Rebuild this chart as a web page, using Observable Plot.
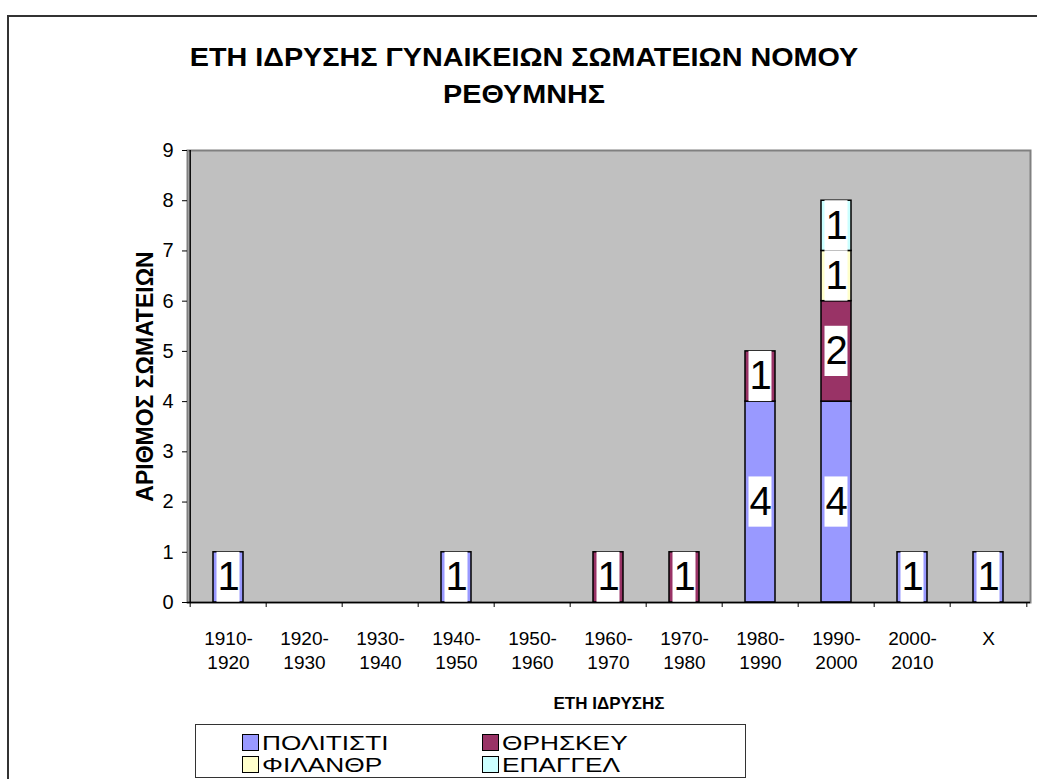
<!DOCTYPE html>
<html>
<head>
<meta charset="utf-8">
<script src="https://cdn.jsdelivr.net/npm/d3@7"></script>
<script src="https://cdn.jsdelivr.net/npm/@observablehq/plot@0.6"></script>
<style>
  html, body { margin: 0; padding: 0; background: #fff; }
  #wrap { position: relative; width: 1037px; height: 779px; overflow: hidden; font-family: "Liberation Sans", Arial, sans-serif; }
  #border { position: absolute; left: 7px; top: 15px; width: 1100px; height: 900px; border-left: 2px solid #333; border-top: 2px solid #333; }
  .title { position: absolute; left: 524px; font-weight: bold; font-size: 25px; white-space: nowrap; transform: translateX(-50%) scaleX(1.15); line-height: 37px; color: #000; }
  #chart { position: absolute; left: 0; top: 0; }
  #legend { position: absolute; left: 195px; top: 724px; width: 549px; height: 52px; border: 1.5px solid #333; background: #fff; }
  .sw { position: absolute; width: 15px; height: 15px; border: 1px solid #000; }
  .lt { position: absolute; font-size: 21px; line-height: 21px; white-space: nowrap; transform: scaleX(1.25); transform-origin: left center; color: #000; }
</style>
</head>
<body>
<div id="wrap">
  <div id="border"></div>
  <div id="chart"></div>
  <div class="title" style="top:39px">ΕΤΗ ΙΔΡΥΣΗΣ ΓΥΝΑΙΚΕΙΩΝ ΣΩΜΑΤΕΙΩΝ ΝΟΜΟΥ</div>
  <div class="title" style="top:76px">ΡΕΘΥΜΝΗΣ</div>
  <div id="legend"></div>
</div>
<script>
const categories = ["1910-1920","1920-1930","1930-1940","1940-1950","1950-1960","1960-1970","1970-1980","1980-1990","1990-2000","2000-2010","X"];
const series = ["ΠΟΛΙΤΙΣΤΙ","ΘΡΗΣΚΕΥ","ΦΙΛΑΝΘΡ","ΕΠΑΓΓΕΛ"];
const colors = ["#9999FF","#993366","#FFFFCC","#CCFFFF"];
const politisti = [1,0,0,1,0,0,0,4,4,1,1];
const thriskeu  = [0,0,0,0,0,1,1,1,2,0,0];
const filanthr  = [0,0,0,0,0,0,0,0,1,0,0];
const epaggel   = [0,0,0,0,0,0,0,0,1,0,0];
const yTicks = [0,1,2,3,4,5,6,7,8,9];
const xTitle = "ΕΤΗ ΙΔΡΥΣΗΣ";
const yTitle = "ΑΡΙΘΜΟΣ ΣΩΜΑΤΕΙΩΝ";

const valuesBySeries = [politisti, thriskeu, filanthr, epaggel];
const rows = [];
series.forEach((s, si) => {
  categories.forEach((c, ci) => {
    const v = valuesBySeries[si][ci];
    if (v > 0) rows.push({cat: c, series: s, value: v});
  });
});
// label boxes at stacked midpoints
const labels = [];
categories.forEach((c, ci) => {
  let base = 0;
  series.forEach((s, si) => {
    const v = valuesBySeries[si][ci];
    if (v > 0) {
      const mid = base + v / 2;
      labels.push({cat: c, mid, lo: mid - 0.5, hi: mid + 0.5, label: String(v)});
      base += v;
    }
  });
});

const W = 1037, H = 720, mL = 187, mR = 7, mT = 150, mB = 118;
const step = (W - mL - mR) / categories.length;

const chart = Plot.plot({
  width: W, height: H,
  marginTop: mT, marginBottom: mB, marginLeft: mL, marginRight: mR,
  style: {fontFamily: "'Liberation Sans', Arial, sans-serif", background: "transparent", overflow: "visible", color: "#000"},
  x: {domain: categories, paddingInner: 0.6, paddingOuter: 0.3, label: null},
  y: {domain: [0, 9], label: null},
  color: {domain: series, range: colors},
  marks: [
    Plot.frame({fill: "#C0C0C0", stroke: "#808080", strokeWidth: 2}),
    Plot.barY(rows, {x: "cat", y: "value", fill: "series", stroke: "#000", strokeWidth: 1.5}),
    Plot.barY(labels, {x: "cat", y1: "lo", y2: "hi", fill: "#fff", insetLeft: 3.5, insetRight: 3.5}),
    Plot.text(labels, {x: "cat", y: "mid", text: "label", fontSize: 40, fill: "#000"}),
    Plot.ruleY([0], {stroke: "#000", strokeWidth: 1.5}),
    Plot.ruleX([categories[0]], {x: d => d, dx: -step / 2, stroke: "#000", strokeWidth: 1.5}),
    Plot.ruleX(categories, {x: d => d, dx: -step / 2, y1: 0, y2: -0.1, stroke: "#000"}),
    Plot.ruleX([categories[categories.length - 1]], {x: d => d, dx: step / 2, y1: 0, y2: -0.1, stroke: "#000"}),
    Plot.axisY({ticks: yTicks, tickSize: 5, tickPadding: 9, fontSize: 20, tickFormat: d => String(d), label: null}),
    Plot.axisX({tickSize: 0, tickPadding: 26, fontSize: 19, lineHeight: 1.25, tickFormat: d => d === "X" ? "X" : d.replace("-", "-\n"), label: null}),
    Plot.text([yTitle], {frameAnchor: "left", textAnchor: "middle", lineAnchor: "middle", rotate: -90, dx: -42, fontSize: 23, fontWeight: "bold", fill: "#000"}),
    Plot.text([xTitle], {frameAnchor: "bottom", lineAnchor: "middle", dy: 101, fontSize: 17, fontWeight: "bold", fill: "#000"})
  ]
});
document.getElementById("chart").appendChild(chart);

// legend
const legend = document.getElementById("legend");
const pos = [[46, 9], [286, 9], [46, 31], [286, 31]];
series.forEach((s, i) => {
  const [lx, ly] = pos[i];
  const sw = document.createElement("div");
  sw.className = "sw";
  sw.style.left = lx + "px"; sw.style.top = ly + "px"; sw.style.background = colors[i];
  legend.appendChild(sw);
  const t = document.createElement("div");
  t.className = "lt";
  t.textContent = s;
  t.style.left = (lx + 20) + "px"; t.style.top = (ly - 2) + "px";
  legend.appendChild(t);
});
</script>
</body>
</html>
